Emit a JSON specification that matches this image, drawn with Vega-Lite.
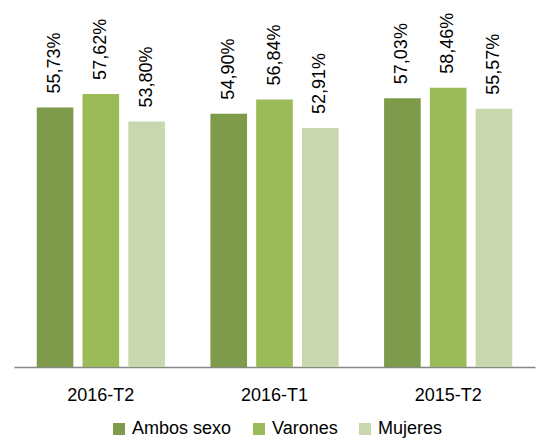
{
  "$schema": "https://vega.github.io/schema/vega-lite/v6.json",
  "width": 521,
  "height": 363,
  "autosize": "none",
  "padding": {"left": 14, "top": 4, "right": 9, "bottom": 72},
  "background": "white",
  "config": {"view": {"stroke": null}, "font": "Liberation Sans"},
  "data": {
    "values": [
      {"periodo": "2016-T2", "grupo": "Ambos sexo", "valor": 55.73, "etiqueta": "55,73%"},
      {"periodo": "2016-T2", "grupo": "Varones", "valor": 57.62, "etiqueta": "57,62%"},
      {"periodo": "2016-T2", "grupo": "Mujeres", "valor": 53.80, "etiqueta": "53,80%"},
      {"periodo": "2016-T1", "grupo": "Ambos sexo", "valor": 54.90, "etiqueta": "54,90%"},
      {"periodo": "2016-T1", "grupo": "Varones", "valor": 56.84, "etiqueta": "56,84%"},
      {"periodo": "2016-T1", "grupo": "Mujeres", "valor": 52.91, "etiqueta": "52,91%"},
      {"periodo": "2015-T2", "grupo": "Ambos sexo", "valor": 57.03, "etiqueta": "57,03%"},
      {"periodo": "2015-T2", "grupo": "Varones", "valor": 58.46, "etiqueta": "58,46%"},
      {"periodo": "2015-T2", "grupo": "Mujeres", "valor": 55.57, "etiqueta": "55,57%"}
    ]
  },
  "encoding": {
    "x": {
      "field": "periodo", "type": "nominal", "sort": null,
      "scale": {"paddingInner": 0.262, "paddingOuter": 0.131},
      "axis": {"title": null, "labelAngle": 0, "labelFontSize": 18, "labelColor": "#000000", "labelPadding": 19, "ticks": false, "domainColor": "#868686", "domainWidth": 1.5, "labelFont": "Liberation Sans"}
    },
    "xOffset": {
      "field": "grupo", "type": "nominal", "sort": ["Ambos sexo", "Varones", "Mujeres"],
      "scale": {"paddingInner": 0.2, "paddingOuter": 0}
    },
    "y": {
      "field": "valor", "type": "quantitative",
      "scale": {"domain": [20, 70], "nice": false, "zero": false},
      "axis": null
    }
  },
  "layer": [
    {
      "mark": {"type": "bar", "clip": true},
      "encoding": {
        "color": {
          "field": "grupo", "type": "nominal", "sort": ["Ambos sexo", "Varones", "Mujeres"],
          "scale": {"domain": ["Ambos sexo", "Varones", "Mujeres"], "range": ["#7E9A4B", "#9BBB59", "#C8D7AD"]},
          "legend": {
            "title": null, "orient": "none", "direction": "horizontal",
            "legendX": 96, "legendY": 416,
            "symbolType": "square", "symbolSize": 144, "symbolStrokeWidth": 0,
            "labelFontSize": 18, "labelColor": "#000000", "labelOffset": 4, "columnPadding": 18,
            "labelFont": "Liberation Sans"
          }
        }
      }
    },
    {
      "mark": {"type": "text", "angle": 270, "align": "left", "baseline": "middle", "dx": 14, "fontSize": 18, "color": "#000000", "font": "Liberation Sans"},
      "encoding": {"text": {"field": "etiqueta"}}
    }
  ]
}
